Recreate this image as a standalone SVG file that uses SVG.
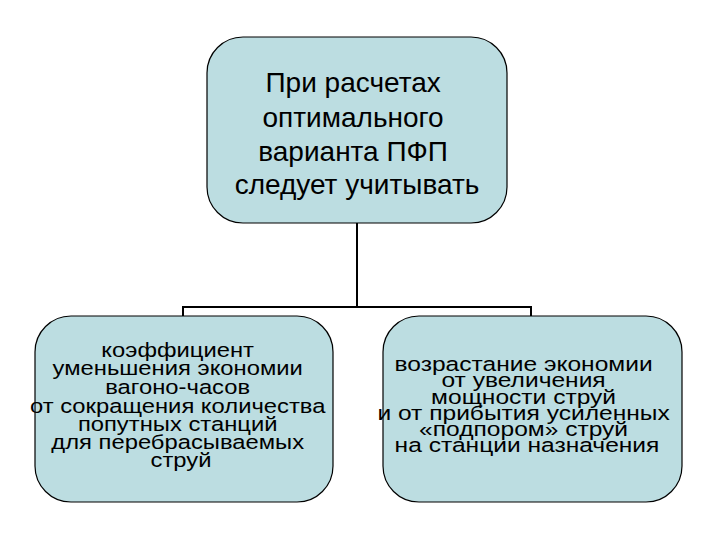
<svg xmlns="http://www.w3.org/2000/svg" width="720" height="540" viewBox="0 0 720 540">
<style>
.box{fill:#bcdde1;stroke:#000;stroke-width:1.2}
.t{font-family:"Liberation Sans",Arial,sans-serif;fill:#000;text-anchor:middle}
.s{font-size:19.5px}
.conn{fill:none;stroke:#000;stroke-width:2}
</style>
<rect width="720" height="540" fill="#fff"/>
<g id="connectors">
<path class="conn" d="M357,223 V307 M183,316 V307 H531 V316"/>
</g>
<g id="top">
<rect class="box" x="207" y="37" width="300" height="186" rx="36" ry="36"/>
<text class="t" font-size="28">
<tspan x="357" y="92">При расчетах</tspan>
<tspan x="357" y="127">оптимального</tspan>
<tspan x="357" y="161">варианта ПФП</tspan>
<tspan x="357" y="194">следует учитывать</tspan>
</text>
</g>
<g id="left">
<rect class="box" x="35" y="316" width="298" height="186" rx="36" ry="36"/>
<text class="t s" transform="translate(181,0) scale(1.22,1)">
<tspan x="0" y="357">коэффициент</tspan>
<tspan x="0" y="375">уменьшения экономии</tspan>
<tspan x="0" y="394">вагоно-часов</tspan>
<tspan x="0" y="413">от сокращения количества</tspan>
<tspan x="0" y="431">попутных станций</tspan>
<tspan x="0" y="449">для перебрасываемых</tspan>
<tspan x="0" y="467">струй</tspan>
</text>
</g>
<g id="right">
<rect class="box" x="383" y="316" width="299" height="186" rx="36" ry="36"/>
<text class="t s" transform="translate(527,0) scale(1.26,1)">
<tspan x="0" y="371">возрастание экономии</tspan>
<tspan x="0" y="387">от увеличения</tspan>
<tspan x="0" y="404">мощности струй</tspan>
<tspan x="0" y="420">и от прибытия усиленных</tspan>
<tspan x="0" y="436">«подпором» струй</tspan>
<tspan x="0" y="452">на станции назначения</tspan>
</text>
</g>
</svg>
